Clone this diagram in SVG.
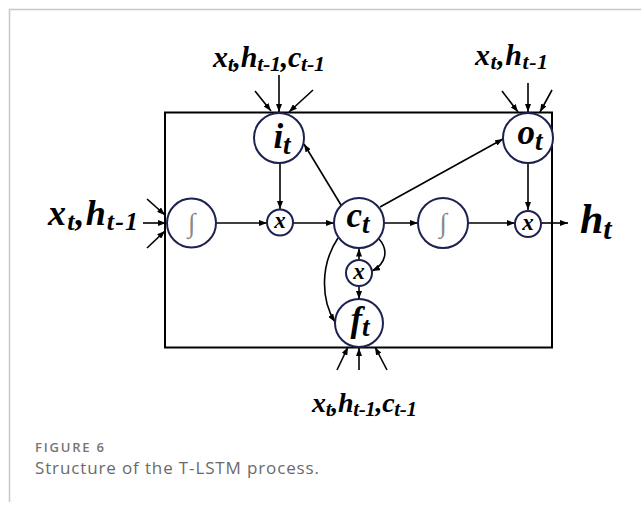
<svg xmlns="http://www.w3.org/2000/svg" width="641" height="506" viewBox="0 0 641 506">
<style>
.lbl{font-family:"Liberation Serif","Times New Roman",serif;font-weight:bold;font-style:italic;fill:#000}
.node circle{fill:#fff;stroke:#1c2150;stroke-width:2}
.int{font-family:"Liberation Serif",serif;font-size:27px;fill:#888;font-style:italic}
.sx{font-family:"Liberation Serif",serif;font-weight:bold;font-style:italic;font-size:23px}
.con line,.con path{stroke:#000;stroke-width:1.6;fill:none;marker-end:url(#ah)}
.cap1{font-family:"Open Sans",sans-serif;font-size:13px;font-weight:600;fill:#757575}
.cap2{font-family:"Open Sans",sans-serif;font-size:17px;fill:#6a6a6a}
</style>
<defs>
<marker id="ah" markerWidth="8" markerHeight="6" refX="8" refY="3" orient="auto" markerUnits="userSpaceOnUse">
<path d="M0,0 L8,3 L0,6 Z" fill="#000"/>
</marker>
</defs>
<rect width="641" height="506" fill="#fff"/>
<path d="M9.5,502 V9.5 H641" fill="none" stroke="#c8c8c8" stroke-width="1.5"/>
<rect id="box" x="165" y="112.5" width="387" height="235" fill="none" stroke="#000" stroke-width="2"/>

<g id="connectors" class="con">
<line x1="279" y1="75" x2="279" y2="112"/>
<line x1="255" y1="91" x2="271" y2="111"/>
<line x1="313" y1="90" x2="289" y2="112"/>
<line x1="528" y1="83" x2="528" y2="112"/>
<line x1="502" y1="91" x2="518" y2="112"/>
<line x1="552" y1="90" x2="540" y2="112"/>
<line x1="143" y1="223" x2="166" y2="223"/>
<line x1="147" y1="199" x2="165" y2="215"/>
<line x1="147" y1="248" x2="165" y2="231"/>
<line x1="216" y1="223" x2="267" y2="223"/>
<line x1="280" y1="163" x2="280" y2="209"/>
<line x1="293" y1="223" x2="334" y2="223"/>
<line x1="341" y1="205" x2="304" y2="144"/>
<line x1="380" y1="207" x2="503" y2="139"/>
<line x1="384" y1="223" x2="418" y2="223"/>
<line x1="468" y1="223" x2="515" y2="223"/>
<line x1="528" y1="163" x2="528" y2="210"/>
<line x1="541" y1="223" x2="568" y2="223"/>
<line x1="359" y1="260" x2="359" y2="248.5"/>
<line x1="359" y1="286" x2="359" y2="299"/>
<path d="M379,239 C389,250 386,264 372,271"/>
<path d="M338,238 C320,265 321,300 335,322"/>
<line x1="359" y1="370" x2="359" y2="348"/>
<line x1="337" y1="370" x2="348" y2="347"/>
<line x1="387" y1="370" x2="375" y2="347"/>
</g>

<g id="it" class="node"><circle cx="279" cy="138" r="25"/>
<text class="lbl" x="282" y="148" text-anchor="middle" font-size="35">i<tspan font-size="27" dy="6">t</tspan></text></g>
<g id="ot" class="node"><circle cx="528" cy="138" r="25"/>
<text class="lbl" x="530" y="144" text-anchor="middle" font-size="35">o<tspan font-size="27" dy="6">t</tspan></text></g>
<g id="ct" class="node"><circle cx="359" cy="223" r="25"/>
<text class="lbl" x="358" y="227" text-anchor="middle" font-size="35">c<tspan font-size="27" dy="6">t</tspan></text></g>
<g id="ft" class="node"><circle cx="359" cy="323" r="24"/>
<text class="lbl" x="360" y="331" text-anchor="middle" font-size="35">f<tspan font-size="27" dy="5">t</tspan></text></g>
<g id="sig1" class="node"><circle cx="191.5" cy="223" r="24.5"/>
<text class="int" x="191.5" y="232" text-anchor="middle">∫</text></g>
<g id="sig2" class="node"><circle cx="443" cy="223" r="25"/>
<text class="int" x="443" y="232" text-anchor="middle">∫</text></g>
<g id="mul1" class="node"><circle cx="280" cy="222.5" r="13"/>
<text class="sx" x="280" y="228" text-anchor="middle">x</text></g>
<g id="mul2" class="node"><circle cx="359" cy="273" r="13"/>
<text class="sx" x="359" y="278.5" text-anchor="middle">x</text></g>
<g id="mul3" class="node"><circle cx="528" cy="224" r="13"/>
<text class="sx" x="528" y="229.5" text-anchor="middle">x</text></g>

<g id="labels">
<text class="lbl" x="213" y="67" font-size="30" textLength="112">x<tspan font-size="22" dy="4">t</tspan><tspan dy="-4">,h</tspan><tspan font-size="22" dy="4">t-1</tspan><tspan dy="-4">,c</tspan><tspan font-size="22" dy="4">t-1</tspan></text>
<text class="lbl" x="475" y="65" font-size="30" textLength="73">x<tspan font-size="22" dy="4">t</tspan><tspan dy="-4">,h</tspan><tspan font-size="22" dy="4">t-1</tspan></text>
<text class="lbl" x="48" y="225" font-size="36" textLength="90">x<tspan font-size="26" dy="5">t</tspan><tspan dy="-5">,h</tspan><tspan font-size="26" dy="5">t-1</tspan></text>
<text class="lbl" x="312" y="412" font-size="28" textLength="105">x<tspan font-size="21" dy="4">t</tspan><tspan dy="-4">,h</tspan><tspan font-size="21" dy="4">t-1</tspan><tspan dy="-4">,c</tspan><tspan font-size="21" dy="4">t-1</tspan></text>
<text class="lbl" x="580" y="233" font-size="42">h<tspan font-size="30" dy="6">t</tspan></text>
</g>

<text class="cap1" x="35" y="452" textLength="69">FIGURE 6</text>
<text class="cap2" x="35" y="474" textLength="284">Structure of the T-LSTM process.</text>
</svg>
